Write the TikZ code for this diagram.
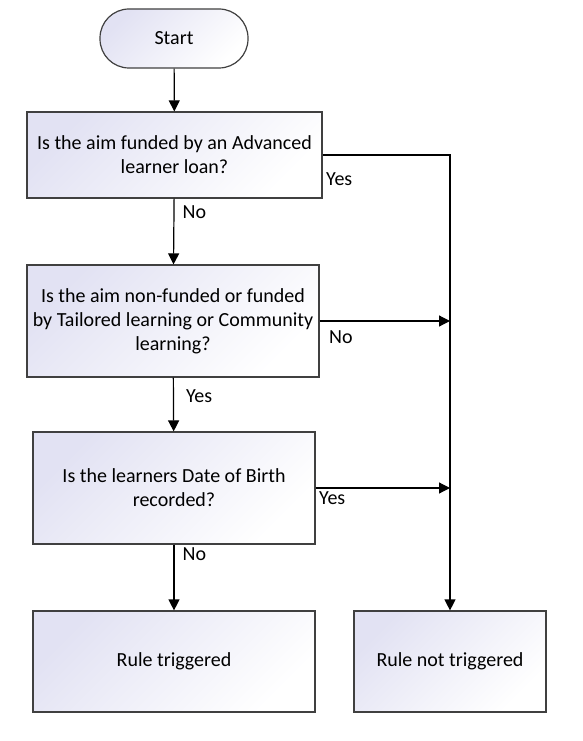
\documentclass[tikz,border=0pt]{standalone}
\usepackage{fontspec}
\setmainfont{Carlito}
\usetikzlibrary{arrows.meta}
\definecolor{boxtint}{HTML}{E2E2F3}
\definecolor{boxline}{HTML}{404040}

\begin{document}
\begin{tikzpicture}[x=1pt, y=-1pt,
        box/.style={draw=boxline, line width=1.2pt, top color=boxtint, bottom color=white, shading angle=45, align=center, font=\fontsize{20}{24}\selectfont, inner sep=2pt},
        term/.style={box, rounded corners=29pt, minimum width=148pt, minimum height=59pt},
        arr/.style={-{Triangle[length=11pt, width=11pt]}, line width=1.2pt},
        lbl/.style={font=\fontsize{20}{22}\selectfont, inner sep=0pt}]
      \useasboundingbox (0,0) rectangle (583,741);
      % flow
      \node[term] (start) at (174,38.5) {Start};
      \node[box, minimum width=295pt, minimum height=86pt] (q1) at (174.5,155) {Is the aim funded by an Advanced\\ learner loan?};
      \node[box, minimum width=292pt, minimum height=112pt] (q2) at (173,321) {Is the aim non-funded or funded\\ by Tailored learning or Community\\ learning?};
      \node[box, minimum width=282pt, minimum height=112pt] (q3) at (174,488) {Is the learners Date of Birth\\ recorded?};
      % outcomes
      \node[box, minimum width=282pt, minimum height=101pt] (hit) at (174,661.5) {Rule triggered};
      \node[box, minimum width=192pt, minimum height=101pt] (miss) at (450,661.5) {Rule not triggered};
      \draw[arr] (start) -- (q1);
      \draw[arr] (q1) -- node[lbl, pos=0.2, right=8pt] {No} (q2);
      \draw[arr] (q2) -- node[lbl, pos=0.35, right=12pt] {Yes} (q3);
      \draw[arr] (q3) -- node[lbl, pos=0.15, right=8pt] {No} (hit);
      \draw[arr] (q1.east) -| node[lbl, pos=0, anchor=north west, xshift=3pt, yshift=-17pt] {Yes} (miss.north);
      \draw[arr] (q2.east) -- node[lbl, pos=0, anchor=north west, xshift=9pt, yshift=-9pt] {No} (q2.east -| miss.north);
      \draw[arr] (q3.east) -- node[lbl, pos=0, anchor=north west, xshift=3pt, yshift=-3pt] {Yes} (q3.east -| miss.north);
    \end{tikzpicture}
\end{document}
